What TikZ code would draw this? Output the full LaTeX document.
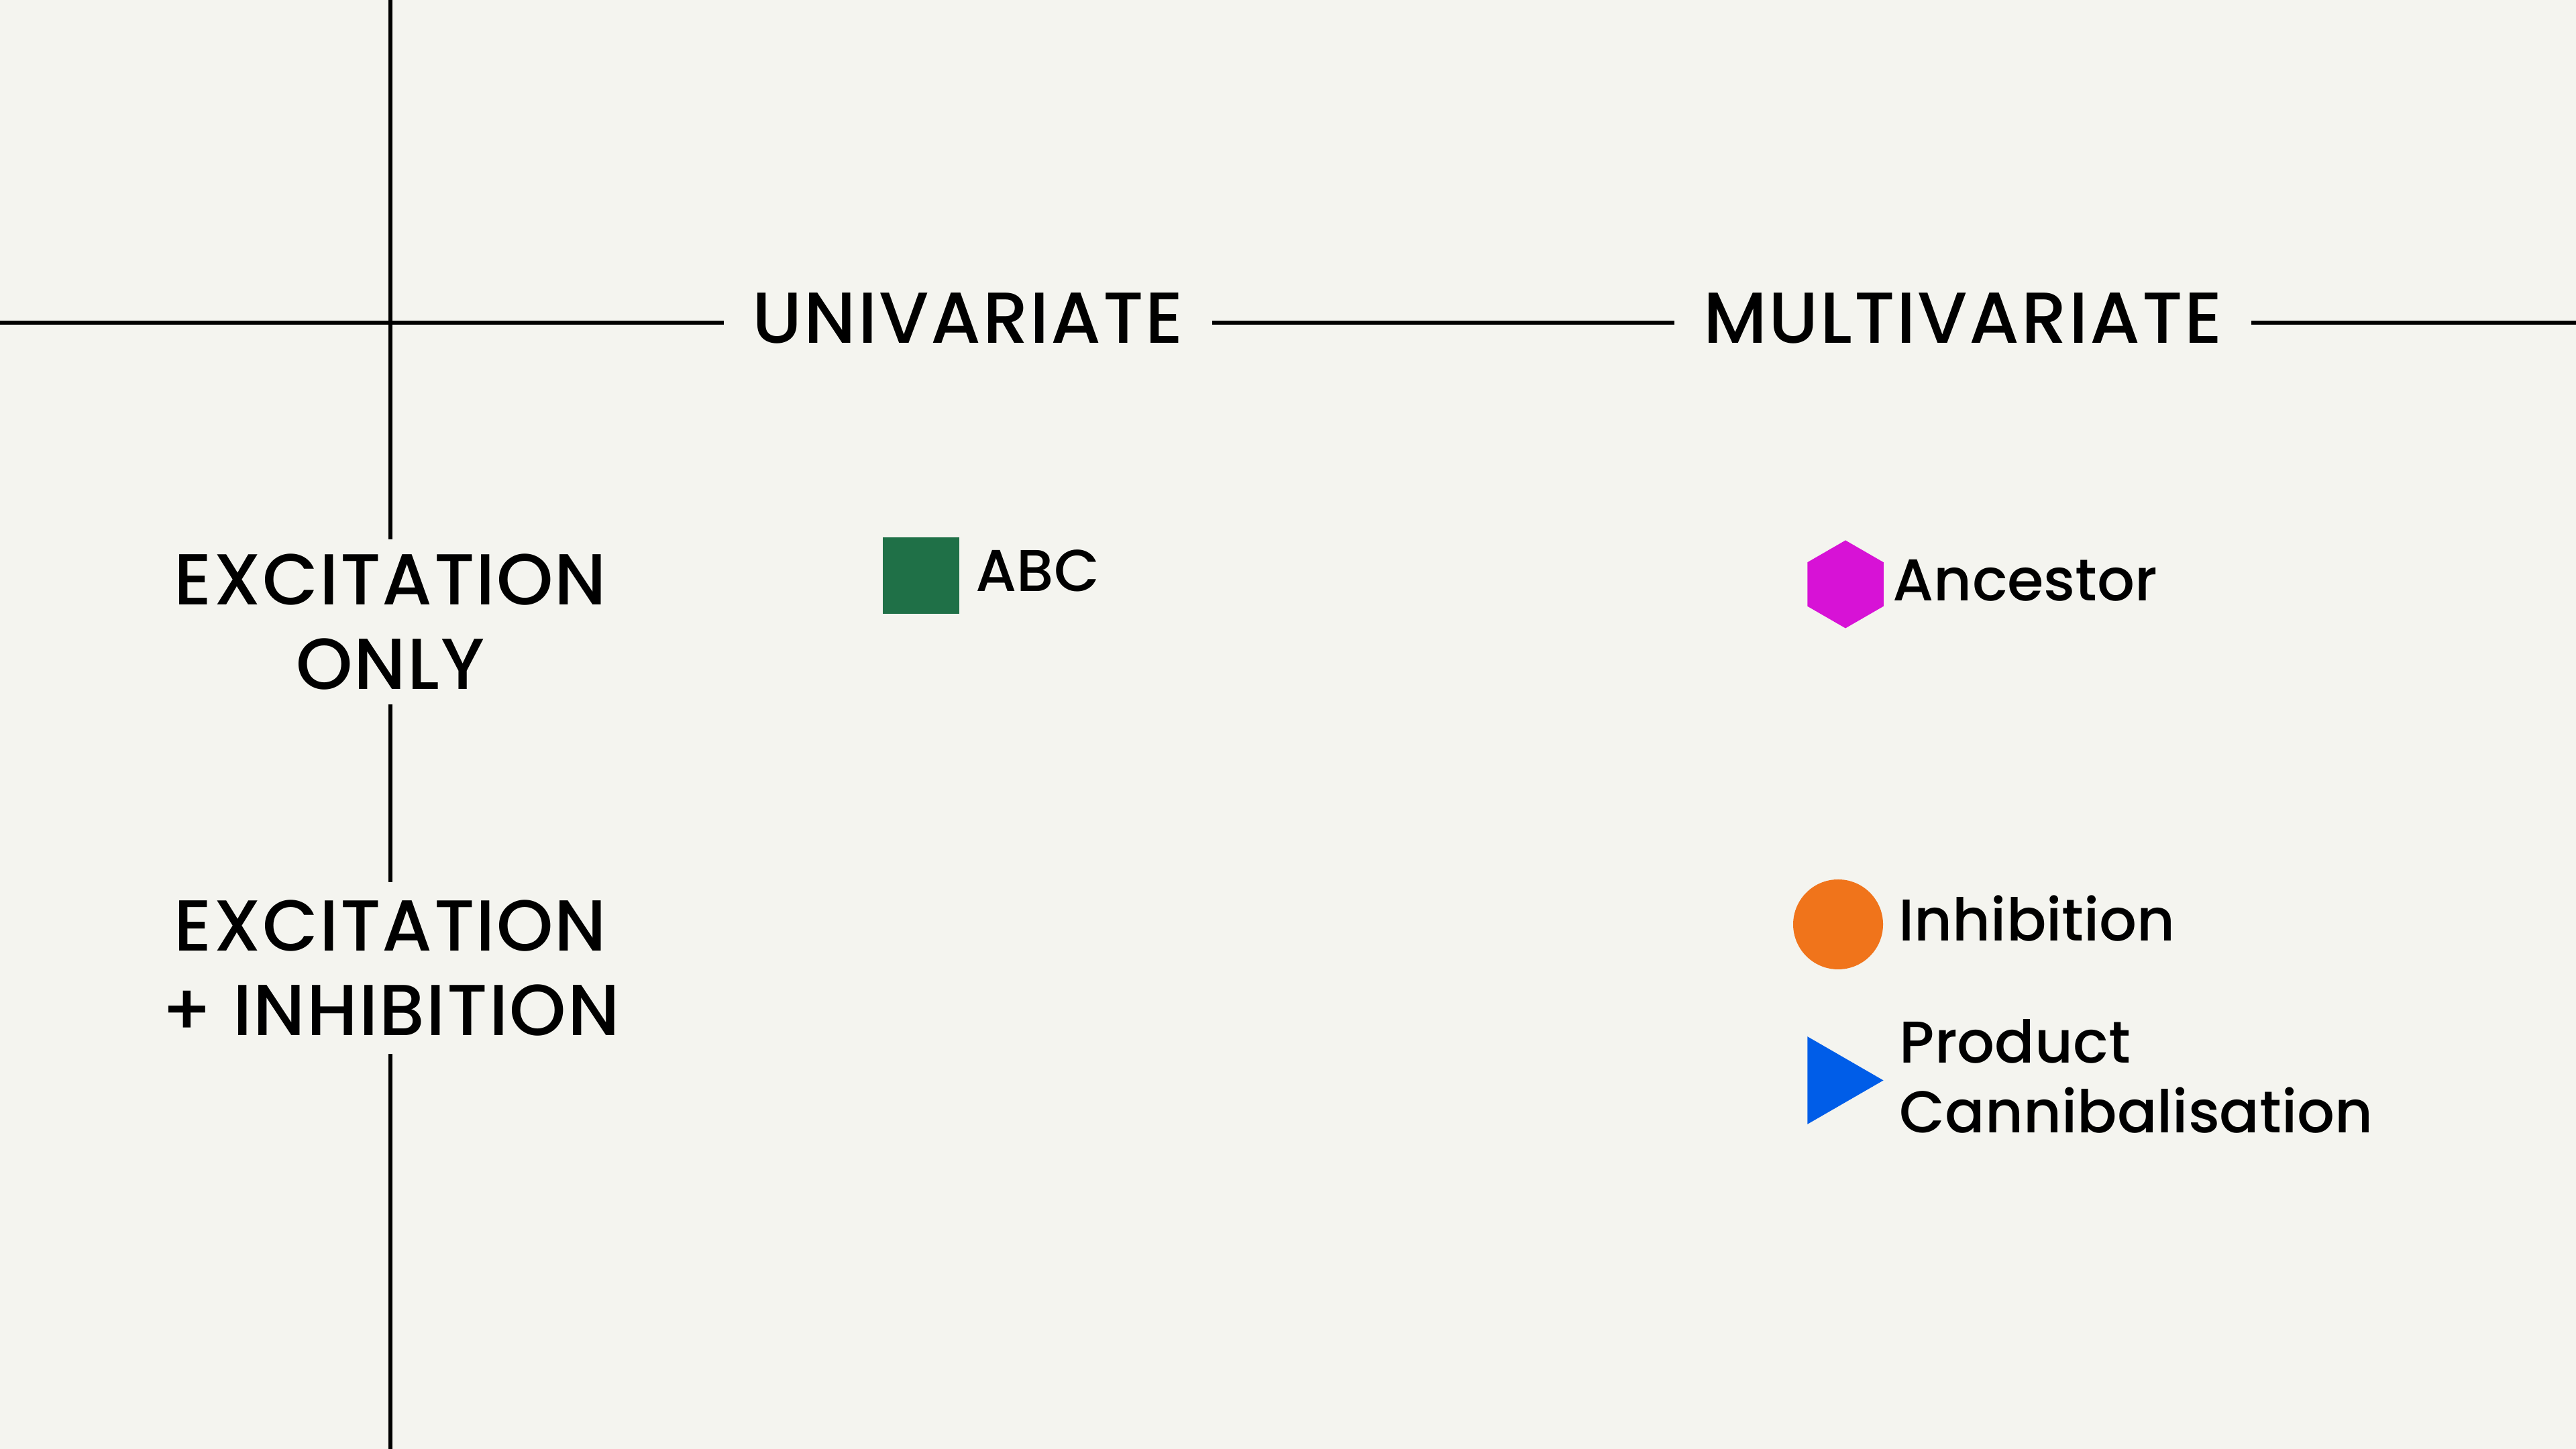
\documentclass[tikz,border=0pt]{standalone}
\usepackage{fontspec}
\setmainfont{Poppins}[UprightFont=* Medium]
\usetikzlibrary{shapes.geometric}

\definecolor{paper}{HTML}{F4F4EF}
\definecolor{abcgreen}{HTML}{1F7047}
\definecolor{ancmagenta}{HTML}{D712D6}
\definecolor{inhorange}{HTML}{F0741B}
\definecolor{canblue}{HTML}{005DE8}

\begin{document}
\begin{tikzpicture}
      % Node style
      \tikzset{
        axis/.style={line width=1.7pt, black},
        heading/.style={font=\fontsize{30.6}{35.6}\selectfont\addfontfeature{LetterSpace=2.5}, inner xsep=12pt, inner ysep=0pt},
        rowlabel/.style={font=\fontsize{30.6}{35.6}\selectfont\addfontfeature{LetterSpace=2}, align=center, inner xsep=0pt, inner ysep=6pt},
        marker/.style={inner sep=0pt, draw=none},
        item/.style={font=\fontsize{25}{29.6}\selectfont, inner sep=0pt, align=left},
      }
      % Background
      \fill[paper] (0,0) rectangle (38.4,21.6);
      \useasboundingbox (0,0) rectangle (38.4,21.6);
      % Nodes
      \node (uni) [heading] at (14.43,16.855) {UNIVARIATE};
      \node (multi) [heading] at (29.26,16.855) {MULTIVARIATE};
      \node (exonly) [rowlabel] at (5.82,12.33) {EXCITATION\\ONLY};
      \node (exinh) [rowlabel, inner ysep=7.5pt] at (5.82,7.17) {EXCITATION\\+ INHIBITION};
      \node (abcmark) [marker, fill=abcgreen, minimum size=1.14cm] at (13.73,13.02) {};
      \node (abc) [item, anchor=base west] at (14.54,12.78) {ABC};
      \node (ancmark) [marker, fill=ancmagenta, regular polygon, regular polygon sides=6, shape border rotate=30, minimum size=1.31cm] at (27.51,12.89) {};
      \node (anc) [item, anchor=base west] at (28.21,12.64) {Ancestor};
      \node (inhmark) [marker, fill=inhorange, circle, minimum size=1.34cm] at (27.40,7.82) {};
      \node (inh) [item, anchor=base west] at (28.30,7.57) {Inhibition};
      \node (canmark) [marker, fill=canblue, regular polygon, regular polygon sides=3, shape border rotate=-90, minimum size=1.51cm] at (27.32,5.495) {};
      \node (can) [item, anchor=west] at (28.31,5.555) {Product\\Cannibalisation};
      % Axes
      \coordinate (lft) at (0,16.79);
      \coordinate (rgt) at (38.4,16.79);
      \coordinate (vtop) at (5.82,21.6);
      \coordinate (vbot) at (5.82,0);
      \draw[axis] (lft) -- (uni.west |- lft);
      \draw[axis] (uni.east |- lft) -- (multi.west |- lft);
      \draw[axis] (multi.east |- lft) -- (rgt);
      \draw[axis] (vtop) -- (exonly.north);
      \draw[axis] (exonly.south) -- (exinh.north);
      \draw[axis] (exinh.south) -- (vbot);
    \end{tikzpicture}
\end{document}
